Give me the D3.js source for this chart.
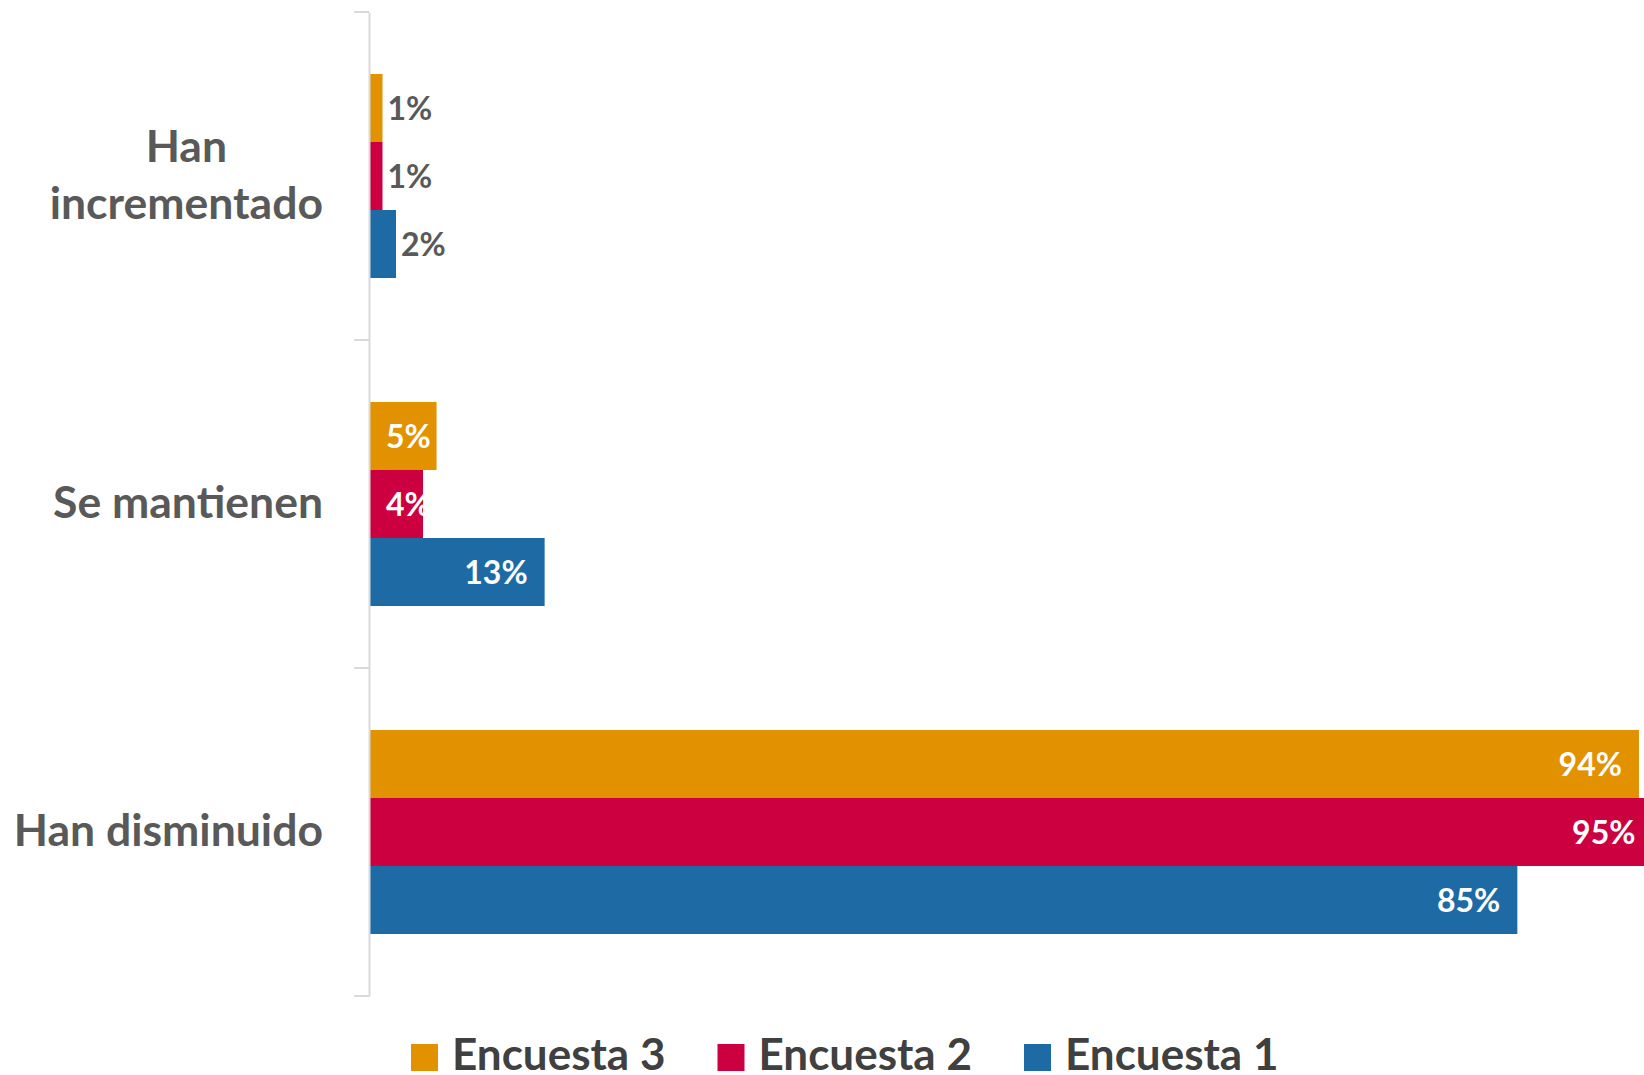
<!DOCTYPE html>
<html>
<head>
<meta charset="utf-8">
<script src="https://cdn.jsdelivr.net/npm/d3@7"></script>
<style>
  html, body { margin: 0; padding: 0; background: #fff; overflow: hidden; }
  text { font-family: Lato, 'Noto Sans', sans-serif; font-weight: 700; }
</style>
</head>
<body>
<div id="chart"></div>
<script>
// categories top to bottom
const categories = [['Han', 'incrementado'], ['Se mantienen'], ['Han disminuido']]
const categoryKeys = ['inc', 'man', 'dis']
// series in drawing order inside each group (top to bottom)
const seriesNames = ['Encuesta 3', 'Encuesta 2', 'Encuesta 1']
const encuesta3 = [1, 5, 94]
const encuesta2 = [1, 4, 95]
const encuesta1 = [2, 13, 85]
const seriesColors = ['#E29100', '#CC0040', '#1D6AA5']

const width = 1644
const height = 1075

function barChart() {
  const values = [encuesta3, encuesta2, encuesta1]
  const axisX = 369

  const svg = d3
    .select('#chart')
    .append('svg')
    .attr('width', width)
    .attr('height', height)

  // x scale: 1% ~ 13.5px
  const x = d3.scaleLinear().domain([0, 100]).range([axisX, axisX + 1351])

  // category bands
  const y = d3
    .scaleBand()
    .domain(categoryKeys)
    .range([12, 996])
    .paddingInner(0.378)
    .paddingOuter(0.189)

  const ySeries = d3.scaleBand().domain(seriesNames).range([0, y.bandwidth()])

  // bars
  const groups = svg
    .append('g')
    .selectAll('g')
    .data(categoryKeys)
    .join('g')
    .attr('transform', (d) => `translate(0,${y(d)})`)

  groups
    .selectAll('rect')
    .data((k, ci) => seriesNames.map((s, si) => ({ s, si, v: values[si][ci] })))
    .join('rect')
    .attr('x', x(0))
    .attr('y', (d) => ySeries(d.s))
    .attr('width', (d) => x(d.v) - x(0))
    .attr('height', ySeries.bandwidth())
    .attr('fill', (d) => seriesColors[d.si])

  // data labels
  groups
    .selectAll('text')
    .data((k, ci) => seriesNames.map((s, si) => ({ s, si, v: values[si][ci] })))
    .join('text')
    .attr('y', (d) => ySeries(d.s) + ySeries.bandwidth() / 2)
    .attr('dy', '0.36em')
    .style('font-size', '32px')
    .text((d) => d.v + '%')
    .each(function (d) {
      const t = d3.select(this)
      const w = this.getComputedTextLength()
      const barEnd = x(d.v)
      if (d.v < 3) {
        // too small, label outside
        t.attr('x', barEnd + 5).attr('text-anchor', 'start').attr('fill', '#595959')
      } else if (barEnd - 17 - w >= x(0) + 18) {
        t.attr('x', barEnd - 17).attr('text-anchor', 'end').attr('fill', '#fff')
      } else {
        t.attr('x', x(0) + 17).attr('text-anchor', 'start').attr('fill', '#fff')
      }
    })

  // y axis line and ticks
  const axis = svg.append('g').attr('transform', `translate(${axisX},0)`)
  axis.call(d3.axisLeft(y).tickSize(0).tickFormat(''))
  axis.select('.domain').attr('stroke', '#D9D9D9').attr('stroke-width', 2)
  axis.selectAll('.tick').remove()
  const boundaries = [y.range()[0], ...categoryKeys.map((k) => y(k) + y.bandwidth() + (y.step() - y.bandwidth()) / 2)]
  axis
    .selectAll('line.sep')
    .data(boundaries)
    .join('line')
    .attr('class', 'sep')
    .attr('x1', -15)
    .attr('x2', 0)
    .attr('y1', (d) => d)
    .attr('y2', (d) => d)
    .attr('stroke', '#D9D9D9')
    .attr('stroke-width', 2)

  // category labels, lines centred on each other, block right aligned
  const catLabels = svg
    .append('g')
    .selectAll('text')
    .data(categories)
    .join('text')
    .attr('text-anchor', 'middle')
    .attr('fill', '#595959')
    .style('font-size', '44.5px')

  catLabels.each(function (lines, i) {
    const cy = y(categoryKeys[i]) + y.bandwidth() / 2
    const lineH = 57
    const first = cy + 14 - ((lines.length - 1) * lineH) / 2
    const tspans = d3
      .select(this)
      .selectAll('tspan')
      .data(lines)
      .join('tspan')
      .attr('y', (d, j) => first + j * lineH)
      .text((d) => d)
    let maxW = 0
    tspans.each(function () {
      maxW = Math.max(maxW, this.getComputedTextLength())
    })
    tspans.attr('x', 323 - maxW / 2)
  })

  // legend
  const legend = svg
    .append('g')
    .selectAll('g')
    .data(seriesNames)
    .join('g')
    .attr('transform', (d, i) => `translate(${411 + i * 306.5},1044)`)

  legend
    .append('rect')
    .attr('width', 27)
    .attr('height', 27)
    .attr('fill', (d, i) => seriesColors[i])

  legend
    .append('text')
    .attr('x', 41)
    .attr('y', 26)
    .attr('fill', '#404040')
    .style('font-size', '44px')
    .text((d) => d)
}

barChart()
</script>
</body>
</html>
